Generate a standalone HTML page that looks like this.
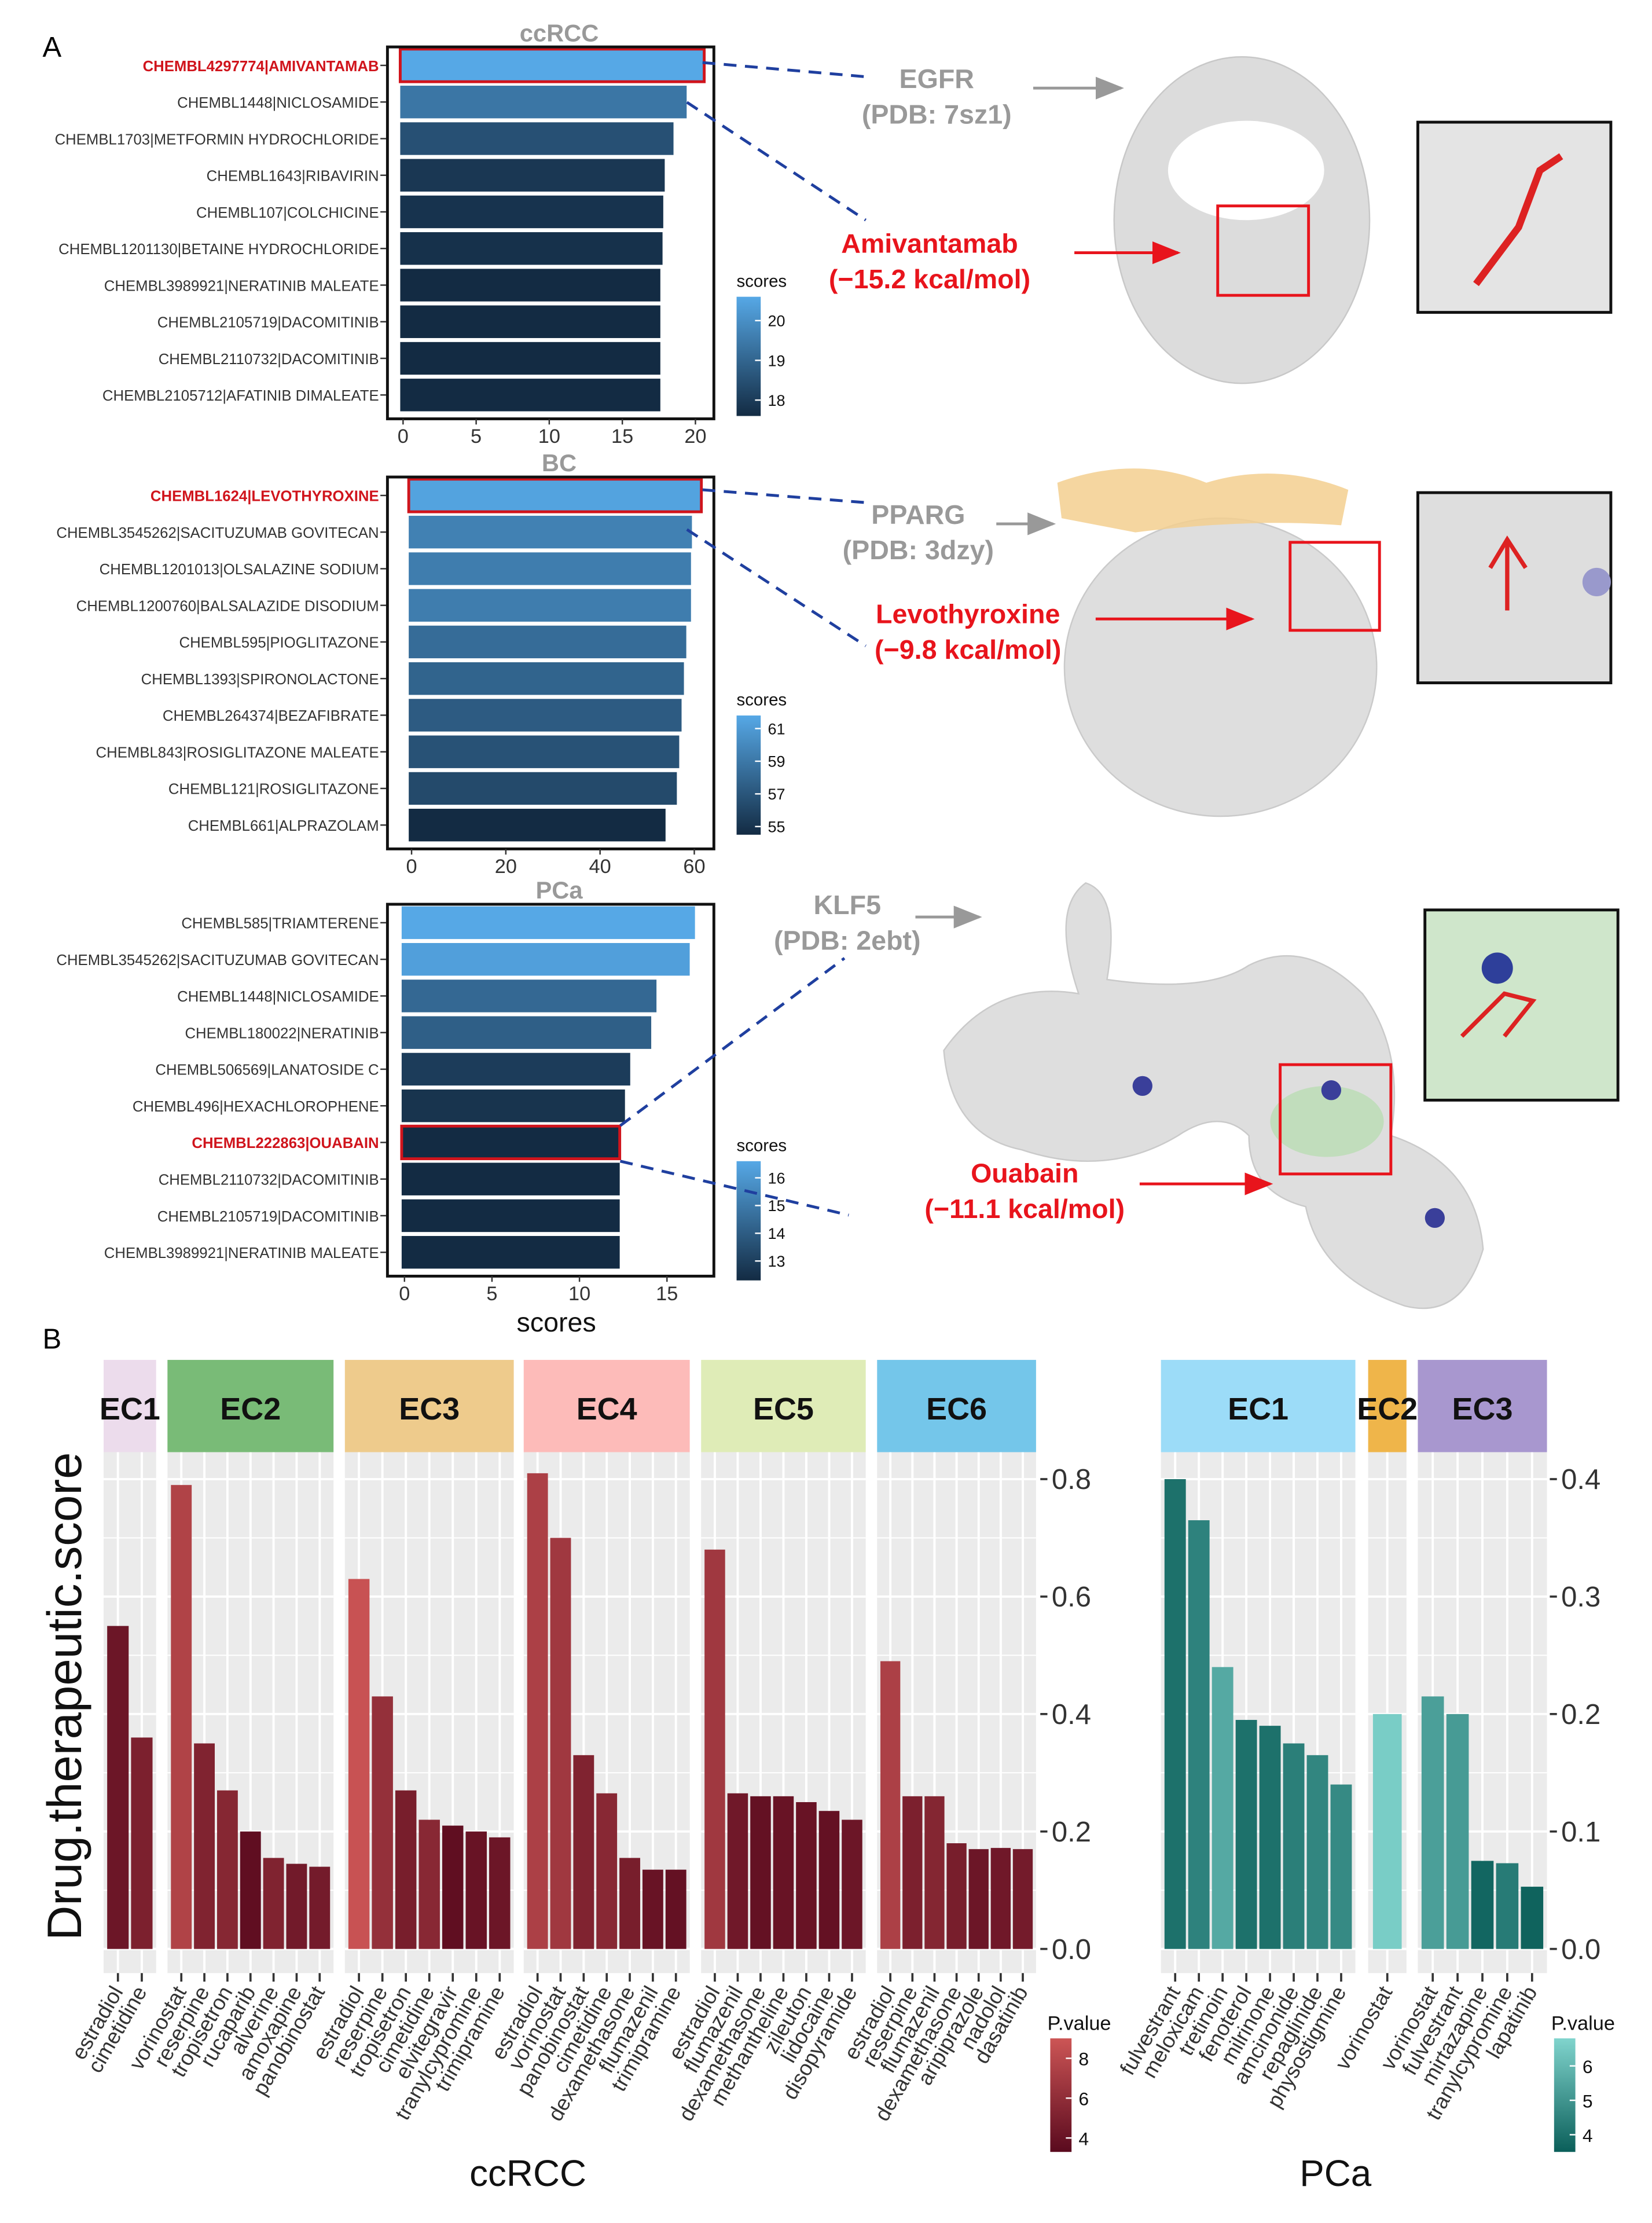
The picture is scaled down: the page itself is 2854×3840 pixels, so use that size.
<!DOCTYPE html>
<html><head><meta charset="utf-8"><style>
html,body{margin:0;padding:0;background:#fff;}
svg{display:block;font-family:"Liberation Sans",Arial,sans-serif;}
</style></head><body>
<svg id="fig" width="2854" height="3840" viewBox="0 0 1164 1566" xmlns="http://www.w3.org/2000/svg">
<defs>
<linearGradient id="gBlue" x1="0" y1="1" x2="0" y2="0"><stop offset="0" stop-color="#132B43"/><stop offset="1" stop-color="#56A8E6"/></linearGradient>
<linearGradient id="gRed" x1="0" y1="1" x2="0" y2="0"><stop offset="0" stop-color="#5a0a1e"/><stop offset="1" stop-color="#cc5555"/></linearGradient>
<linearGradient id="gTeal" x1="0" y1="1" x2="0" y2="0"><stop offset="0" stop-color="#0b5f5a"/><stop offset="1" stop-color="#80d4cd"/></linearGradient>
<marker id="arG" markerWidth="10" markerHeight="10" refX="9" refY="5" orient="auto"><path d="M0,1 L10,5 L0,9 z" fill="#999"/></marker>
<marker id="arR" markerWidth="10" markerHeight="10" refX="9" refY="5" orient="auto"><path d="M0,1 L10,5 L0,9 z" fill="#e8141c"/></marker>
</defs>
<text x="30" y="40" font-size="20">A</text>
<text x="30" y="950" font-size="20">B</text>
<g id="panelA"></g>
<g id="proteins">
  <ellipse cx="875" cy="155" rx="90" ry="115" fill="#dcdcdc" stroke="#c8c8c8"/>
  <ellipse cx="878" cy="120" rx="55" ry="35" fill="#fff"/>
  <rect x="858" y="145" width="64" height="63" fill="none" stroke="#e8141c" stroke-width="2"/>
  <rect x="999" y="86" width="136" height="134" fill="#e4e4e4" stroke="#111" stroke-width="2"/>
  <path d="M1040,200 L1070,160 L1085,120 L1100,110" stroke="#d22" stroke-width="5" fill="none"/>
  <ellipse cx="860" cy="470" rx="110" ry="105" fill="#dedede" stroke="#cacaca"/>
  <path d="M745,340 Q800,320 850,340 Q900,325 950,345 L945,370 Q880,365 800,375 L748,365 z" fill="#f3cf8f" opacity="0.85"/>
  <rect x="909" y="382" width="63" height="62" fill="none" stroke="#e8141c" stroke-width="2"/>
  <rect x="999" y="347" width="136" height="134" fill="#dedede" stroke="#111" stroke-width="2"/>
  <circle cx="1125" cy="410" r="10" fill="#9999cc"/>
  <path d="M1050,400 L1062,380 L1075,400 M1062,380 L1062,430" stroke="#d22" stroke-width="3" fill="none"/>
  <path d="M665,740 Q700,690 760,700 Q740,640 765,622 Q790,630 780,690 Q850,700 880,680 Q920,660 960,700 Q990,740 980,800 Q1040,820 1045,880 Q1030,930 990,920 Q930,900 920,850 Q880,840 880,800 Q860,780 830,800 Q780,830 720,810 Q670,800 665,740 z" fill="#dedede" stroke="#cacaca"/>
  <ellipse cx="935" cy="790" rx="40" ry="25" fill="#b9dcb3" opacity="0.8"/>
  <circle cx="805" cy="765" r="7" fill="#3a3f9a"/><circle cx="938" cy="768" r="7" fill="#3a3f9a"/><circle cx="1011" cy="858" r="7" fill="#3a3f9a"/>
  <rect x="902" y="750" width="78" height="77" fill="none" stroke="#e8141c" stroke-width="2"/>
  <rect x="1004" y="641" width="136" height="134" fill="#cfe6cb" stroke="#111" stroke-width="2"/>
  <circle cx="1055" cy="682" r="11" fill="#2e3f9a"/>
  <path d="M1030,730 L1060,700 L1080,705 L1060,730" stroke="#d22" stroke-width="3" fill="none"/>
</g>
<g id="annot" font-weight="bold">
  <text x="660" y="62" font-size="19" fill="#999" text-anchor="middle">EGFR</text>
  <text x="660" y="87" font-size="19" fill="#999" text-anchor="middle">(PDB: 7sz1)</text>
  <line x1="728" y1="62" x2="790" y2="62" stroke="#999" stroke-width="2" marker-end="url(#arG)"/>
  <text x="655" y="178" font-size="19" fill="#e8141c" text-anchor="middle">Amivantamab</text>
  <text x="655" y="203" font-size="19" fill="#e8141c" text-anchor="middle">(−15.2 kcal/mol)</text>
  <line x1="757" y1="178" x2="830" y2="178" stroke="#e8141c" stroke-width="2" marker-end="url(#arR)"/>
  <text x="647" y="369" font-size="19" fill="#999" text-anchor="middle">PPARG</text>
  <text x="647" y="394" font-size="19" fill="#999" text-anchor="middle">(PDB: 3dzy)</text>
  <line x1="702" y1="369" x2="742" y2="369" stroke="#999" stroke-width="2" marker-end="url(#arG)"/>
  <text x="682" y="439" font-size="19" fill="#e8141c" text-anchor="middle">Levothyroxine</text>
  <text x="682" y="464" font-size="19" fill="#e8141c" text-anchor="middle">(−9.8 kcal/mol)</text>
  <line x1="772" y1="436" x2="882" y2="436" stroke="#e8141c" stroke-width="2" marker-end="url(#arR)"/>
  <text x="597" y="644" font-size="19" fill="#999" text-anchor="middle">KLF5</text>
  <text x="597" y="669" font-size="19" fill="#999" text-anchor="middle">(PDB: 2ebt)</text>
  <line x1="645" y1="646" x2="690" y2="646" stroke="#999" stroke-width="2" marker-end="url(#arG)"/>
  <text x="722" y="833" font-size="19" fill="#e8141c" text-anchor="middle">Ouabain</text>
  <text x="722" y="858" font-size="19" fill="#e8141c" text-anchor="middle">(−11.1 kcal/mol)</text>
  <line x1="803" y1="834" x2="895" y2="834" stroke="#e8141c" stroke-width="2" marker-end="url(#arR)"/>
  <g stroke="#1f3f9f" stroke-width="2" stroke-dasharray="9,6" fill="none">
    <line x1="495" y1="44" x2="610" y2="54"/><line x1="484" y1="72" x2="610" y2="155"/>
    <line x1="495" y1="345" x2="610" y2="354"/><line x1="484" y1="373" x2="610" y2="455"/>
    <line x1="437" y1="793" x2="595" y2="675"/><line x1="437" y1="818" x2="598" y2="856"/>
  </g>
</g>
<g id="panelB"></g>
</svg>
<script>
const NS="http://www.w3.org/2000/svg";
function mk(p,t,a,txt){const e=document.createElementNS(NS,t);for(const k in a)e.setAttribute(k,a[k]);if(txt!==undefined)e.textContent=txt;p.appendChild(e);return e;}

const ccrccDrugs=["CHEMBL4297774|AMIVANTAMAB","CHEMBL1448|NICLOSAMIDE","CHEMBL1703|METFORMIN HYDROCHLORIDE","CHEMBL1643|RIBAVIRIN","CHEMBL107|COLCHICINE","CHEMBL1201130|BETAINE HYDROCHLORIDE","CHEMBL3989921|NERATINIB MALEATE","CHEMBL2105719|DACOMITINIB","CHEMBL2110732|DACOMITINIB","CHEMBL2105712|AFATINIB DIMALEATE"];
const ccrccScores=[20.6,19.4,18.5,17.9,17.8,17.75,17.6,17.6,17.6,17.6];
const ccrccTicks=[0,5,10,15,20];
const ccrccLegend=[18,19,20];
const bcDrugs=["CHEMBL1624|LEVOTHYROXINE","CHEMBL3545262|SACITUZUMAB GOVITECAN","CHEMBL1201013|OLSALAZINE SODIUM","CHEMBL1200760|BALSALAZIDE DISODIUM","CHEMBL595|PIOGLITAZONE","CHEMBL1393|SPIRONOLACTONE","CHEMBL264374|BEZAFIBRATE","CHEMBL843|ROSIGLITAZONE MALEATE","CHEMBL121|ROSIGLITAZONE","CHEMBL661|ALPRAZOLAM"];
const bcScores=[61.5,59.5,59.3,59.3,58.3,57.8,57.3,56.8,56.3,53.9];
const bcTicks=[0,20,40,60];
const bcLegend=[55,57,59,61];
const pcaDrugs=["CHEMBL585|TRIAMTERENE","CHEMBL3545262|SACITUZUMAB GOVITECAN","CHEMBL1448|NICLOSAMIDE","CHEMBL180022|NERATINIB","CHEMBL506569|LANATOSIDE C","CHEMBL496|HEXACHLOROPHENE","CHEMBL222863|OUABAIN","CHEMBL2110732|DACOMITINIB","CHEMBL2105719|DACOMITINIB","CHEMBL3989921|NERATINIB MALEATE"];
const pcaScores=[16.6,16.3,14.4,14.1,12.9,12.6,12.3,12.3,12.3,12.3];
const pcaTicks=[0,5,10,15];
const pcaLegend=[13,14,15,16];

function lerpCol(c1,c2,t){const a=[1,3,5].map(i=>parseInt(c1.substr(i,2),16)),b=[1,3,5].map(i=>parseInt(c2.substr(i,2),16));return "rgb("+a.map((v,i)=>Math.round(v+(b[i]-v)*t)).join(",")+")";}

function hbar(name,title,drugs,scores,ticks,leg,top,x0,pxPer,hi,legTop,lmin,lmax,xlab){
  const g=mk(document.getElementById("panelA"),"g",{});
  
  
  const T=mk(g,"text",{x:394,y:top-4,"font-size":17,"font-weight":"bold",fill:"#999","text-anchor":"middle"},title);
  
  const sc=v=>x0+v*pxPer;
  drugs.forEach((d,i)=>{
    const cy=top+13+i*25.8;
    const t=Math.max(0,Math.min(1,(scores[i]-lmin)/(lmax-lmin)));
    const r=mk(g,"rect",{x:x0-2,y:cy-11.5,width:sc(scores[i])-x0+2,height:23,fill:lerpCol("#132B43","#56A8E6",t)});
    
    if(i===hi){const b=mk(g,"rect",{x:x0-2,y:cy-11.5,width:sc(scores[i])-x0+2,height:23,fill:"none",stroke:"#d0141c","stroke-width":2});}
    const l=mk(g,"text",{x:267,y:cy+4,"font-size":10.5,"text-anchor":"end",fill:i===hi?"#d0141c":"#333","font-weight":i===hi?"bold":"normal"},d);
    
    mk(g,"line",{x1:268,y1:cy,x2:272,y2:cy,stroke:"#333"});
  });
  const f=mk(g,"rect",{x:273,y:top,width:230,height:262,fill:"none",stroke:"#111","stroke-width":2});
  
  ticks.forEach(v=>{mk(g,"line",{x1:sc(v),y1:top+262,x2:sc(v),y2:top+266,stroke:"#333"});
    const t=mk(g,"text",{x:sc(v),y:top+279,"font-size":14,"text-anchor":"middle",fill:"#333"},v);});
  const lt=mk(g,"text",{x:519,y:legTop-7,"font-size":12,fill:"#111"},"scores");
  const cb=mk(g,"rect",{x:519,y:legTop,width:17,height:84,fill:"url(#gBlue)"});
  leg.forEach(v=>{const y=legTop+84-(v-lmin)/(lmax-lmin)*84;mk(g,"line",{x1:532,y1:y,x2:536,y2:y,stroke:"#fff"});
    const t=mk(g,"text",{x:541,y:y+4,"font-size":11,fill:"#111"},v);});
  if(xlab){const t=mk(g,"text",{x:392,y:top+301,"font-size":19,"text-anchor":"middle",fill:"#111"},xlab);}
}
hbar("ccrcc","ccRCC",ccrccDrugs,ccrccScores,ccrccTicks,ccrccLegend,33,284,10.3,0,209,17.6,20.6);
hbar("bc","BC",bcDrugs,bcScores,bcTicks,bcLegend,336,290,3.32,0,504,54.5,61.8);
hbar("pca","PCa",pcaDrugs,pcaScores,pcaTicks,pcaLegend,637,285,12.33,6,818,12.3,16.6,"scores");

const ccFacets=["EC1","EC2","EC3","EC4","EC5","EC6"];
const ccDrugs=[["estradiol","cimetidine"],["vorinostat","reserpine","tropisetron","rucaparib","alverine","amoxapine","panobinostat"],["estradiol","reserpine","tropisetron","cimetidine","elvitegravir","tranylcypromine","trimipramine"],["estradiol","vorinostat","panobinostat","cimetidine","dexamethasone","flumazenil","trimipramine"],["estradiol","flumazenil","dexamethasone","methantheline","zileuton","lidocaine","disopyramide"],["estradiol","reserpine","flumazenil","dexamethasone","aripiprazole","nadolol","dasatinib"]];
const ccScore=[[0.55,0.36],[0.79,0.35,0.27,0.20,0.155,0.145,0.14],[0.63,0.43,0.27,0.22,0.21,0.20,0.19],[0.81,0.70,0.33,0.265,0.155,0.135,0.135],[0.68,0.265,0.26,0.26,0.25,0.235,0.22],[0.49,0.26,0.26,0.18,0.17,0.172,0.17]];
const ccPval=[[4.2,5],[7.6,5.2,5.5,3.6,5.2,4.5,4.6],[8.8,6.2,4.8,5.6,3.6,4,4.2],[7.4,6.8,5.2,5.6,4.8,4,3.8],[6.8,4.4,3.8,4,4,3.8,4.2],[7.4,5,5.4,4.8,4.2,4.4,4.6]];
const ccTicks=[0,0.2,0.4,0.6,0.8];
const ccTickLabels=["0.0","0.2","0.4","0.6","0.8"];
const ccLegVals=[4,6,8];
const pcFacets=["EC1","EC2","EC3"];
const pcDrugs=[["fulvestrant","meloxicam","tretinoin","fenoterol","milrinone","amcinonide","repaglinide","physostigmine"],["vorinostat"],["vorinostat","fulvestrant","mirtazapine","tranylcypromine","lapatinib"]];
const pcScore=[[0.40,0.365,0.24,0.195,0.19,0.175,0.165,0.14],[0.20],[0.215,0.20,0.075,0.073,0.053]];
const pcPval=[[4,4.5,5.6,4,4,4.4,4.6,4.7],[6.6],[5.3,5.2,3.7,4.3,3.6]];
const pcTicks=[0,0.1,0.2,0.3,0.4];
const pcTickLabels=["0.0","0.1","0.2","0.3","0.4"];
const pcLegVals=[4,5,6];
const ccStripCols=["#ecdcec","#79bb77","#eecb8c","#fdbbb9","#dfecb7","#74c6ea"];
const pcStripCols=["#9cdcf8","#efb54a","#a897cf"];

function facets(name,facs,drugs,scores,pvals,ranges,ymax,ticks,tlabs,axisX,stripCols,c1,c2,pmin,pmax,legX,legVals,grad,xlab,xlabX){
  const g=mk(document.getElementById("panelB"),"g",{});
  
  const y0=1373,yTop=1023,yBot=1390;
  const ys=v=>y0-v/ymax*(y0-1042);
  facs.forEach((f,fi)=>{
    const [xa,xb]=ranges[fi];
    const bg=mk(g,"rect",{x:xa,y:yTop,width:xb-xa,height:yBot-yTop,fill:"#ebebeb"});
    ticks.forEach(v=>mk(g,"line",{x1:xa,y1:ys(v),x2:xb,y2:ys(v),stroke:"#fff","stroke-width":1.6}));
    for(let k=0;k<ticks.length-1;k++){const m=(ticks[k]+ticks[k+1])/2;mk(g,"line",{x1:xa,y1:ys(m),x2:xb,y2:ys(m),stroke:"#fff","stroke-width":0.8});}
    const n=drugs[fi].length,w=(xb-xa)/(n+0.2),x1=xa+w*0.6;
    drugs[fi].forEach((d,i)=>{const cx=x1+i*w;mk(g,"line",{x1:cx,y1:yTop,x2:cx,y2:yBot,stroke:"#fff","stroke-width":1.6});});
    const st=mk(g,"rect",{x:xa,y:958,width:xb-xa,height:65,fill:stripCols[fi]});
    const stt=mk(g,"text",{x:(xa+xb)/2,y:1000,"font-size":22,"font-weight":"bold","text-anchor":"middle",fill:"#111"},f);
    drugs[fi].forEach((d,i)=>{
      const cx=x1+i*w,t=(pvals[fi][i]-pmin)/(pmax-pmin);
      const b=mk(g,"rect",{x:cx-w*0.45,y:ys(scores[fi][i]),width:w*0.9,height:y0-ys(scores[fi][i]),fill:lerpCol(c1,c2,Math.max(0,Math.min(1,t)))});
      
      mk(g,"line",{x1:cx,y1:yBot,x2:cx,y2:yBot+6,stroke:"#333","stroke-width":1.5});
      const l=mk(g,"text",{x:0,y:0,"font-size":15,"text-anchor":"end",fill:"#333",transform:`translate(${cx+4},${yBot+13}) rotate(-60)`},d);
      
    });
  });
  ticks.forEach((v,i)=>{mk(g,"line",{x1:axisX,y1:ys(v),x2:axisX+5,y2:ys(v),stroke:"#333","stroke-width":1.5});
    const t=mk(g,"text",{x:axisX+8,y:ys(v)+7,"font-size":20,fill:"#333"},tlabs[i]);});
  const lt=mk(g,"text",{x:legX-2,y:1430,"font-size":14,fill:"#111"},"P.value");
  const cb=mk(g,"rect",{x:legX,y:1436,width:15,height:80,fill:grad});
  legVals.forEach(v=>{const y=1516-(v-pmin)/(pmax-pmin)*80;mk(g,"line",{x1:legX+11,y1:y,x2:legX+15,y2:y,stroke:"#fff"});
    const t=mk(g,"text",{x:legX+20,y:y+5,"font-size":13,fill:"#111"},v);});
  const xt=mk(g,"text",{x:xlabX,y:1540,"font-size":26,"text-anchor":"middle",fill:"#111"},xlab);
}
facets("ccrcc",ccFacets,ccDrugs,ccScore,ccPval,[[73,110],[118,235],[243,362],[369,486],[494,610],[618,730]],0.8,ccTicks,ccTickLabels,733,ccStripCols,"#5a0a1e","#cc5555",3.3,9,740,ccLegVals,"url(#gRed)","ccRCC",372);
facets("pca",pcFacets,pcDrugs,pcScore,pcPval,[[818,955],[964,991],[999,1090]],0.4,pcTicks,pcTickLabels,1092,pcStripCols,"#0b5f5a","#80d4cd",3.5,6.8,1095,pcLegVals,"url(#gTeal)","PCa",941);
const yl=mk(document.getElementById("panelB"),"text",{x:0,y:0,"font-size":34,"text-anchor":"middle",fill:"#111",transform:"translate(57,1195) rotate(-90)"},"Drug.therapeutic.score");


</script>
</body></html>
